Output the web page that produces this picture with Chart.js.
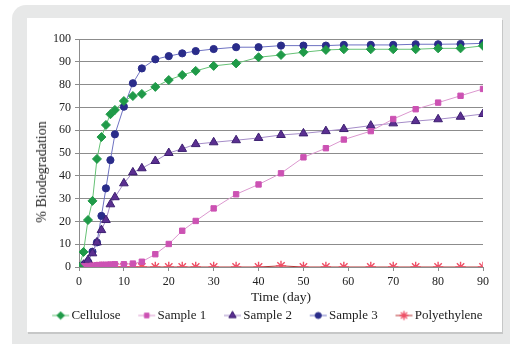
<!DOCTYPE html>
<html>
<head>
<meta charset="utf-8">
<script src="https://cdn.jsdelivr.net/npm/chart.js@4/dist/chart.umd.min.js"></script>
<style>
  html, body { margin:0; padding:0; width:510px; height:344px; overflow:hidden; background:#ffffff; }
  #frame { position:absolute; left:12px; top:5px; width:520px; height:360px; background:#e7e8e8; border-radius:14px; }
  #panel { position:absolute; left:27px; top:18px; width:475px; height:314px; background:#ffffff;
           box-shadow: 1px 2px 0 #c6c7c7; }
  #chartBox { position:absolute; left:0px; top:18px; width:510px; height:314px; }
  #ytitle { position:absolute; left:42px; top:172px; transform:translate(-50%,-50%) rotate(-90deg);
            font-family:'Liberation Serif', serif; font-size:14px; color:#222; white-space:nowrap; }
</style>
</head>
<body>
<div id="frame"></div>
<div id="panel"></div>
<div id="chartBox"><canvas id="c" width="510" height="314"></canvas></div>
<div id="ytitle">% Biodegradation</div>
<script>
// ---- data ----
const days = [0,1,2,3,4,5,6,7,8,10,12,14,17,20,23,26,30,35,40,45,50,55,59,65,70,75,80,85,90];
const cellulose = [0,6.6,20.6,29,47.4,57,62.3,67,68.9,72.8,75,75.9,79,82,84.2,86,88.2,89.3,92,93,94.2,95.2,95.5,95.5,95.5,95.5,95.9,95.9,97];
const sample1 = [0,0.3,0.5,0.6,0.8,1,1,1.1,1.2,1.2,1.5,2.3,5.6,10.1,15.9,20.2,25.7,31.9,36.2,41.1,48.1,52.1,55.9,59.6,64.9,69.2,72.1,75.1,78.1];
const sample2 = [0,1,3,6,10.8,16.2,20.6,27.5,30.6,36.7,41.5,43.3,46.5,50,51.8,53.9,54.7,55.6,56.6,57.9,58.6,59.6,60.5,62,63,64,64.8,65.9,67.1];
const sample3 = [0,0.9,2.3,6.7,10.8,22.4,34.5,46.9,58.2,70.3,80.6,87.1,91.1,92.5,93.7,94.7,95.6,96.4,96.4,97.1,97.1,97.1,97.4,97.4,97.4,97.7,97.7,97.8,98.1];
const polyethylene = [0,0,0,0,0,0,0,0,0,0,0,0,0,0,0,0,0,0,0,0.5,0,0,0,0,0,0,0,0,0];
const seriesNames = ["Cellulose","Sample 1","Sample 2","Sample 3","Polyethylene"];
const xTitle = "Time (day)";

const FONT = "'Liberation Serif', 'Times New Roman', serif";
Chart.defaults.font.family = FONT;
Chart.defaults.color = '#222';

function pts(vals){ return days.map((d,i)=>({x:d, y:vals[i]})); }

const styles = [
  {marker:'rectRot', r:4.5, fill:'#1f9a48', stroke:'#1f9a48', line:'#66c276', bw:1},
  {marker:'rect',    r:3.8, fill:'#cc52b3', stroke:'#cc52b3', line:'#dc98cf', bw:1},
  {marker:'triangle',r:5,   fill:'#5b2f91', stroke:'#3c1f70', line:'#a58cc8', bw:1},
  {marker:'circle',  r:3.6, fill:'#2a2c8a', stroke:'#2a2c8a', line:'#6e72c2', bw:1},
  {marker:'star',    r:5.2, fill:'#f05a6e', stroke:'#ee4f66', line:'#b83434', bw:1.4}
];
const values = [cellulose, sample1, sample2, sample3, polyethylene];

// legend symbol images: line with marker; transparent left part acts as the gap between items
function legendImage(st){
  const W = 39, H = 12;
  const cv = document.createElement('canvas');
  cv.width = W; cv.height = H;
  const ctx = cv.getContext('2d');
  const x0 = 21, x1 = 38, cy = H/2;
  ctx.strokeStyle = st.line; ctx.lineWidth = 1;
  ctx.beginPath(); ctx.moveTo(x0, cy); ctx.lineTo(x1, cy); ctx.stroke();
  ctx.save();
  ctx.fillStyle = st.fill; ctx.strokeStyle = st.stroke; ctx.lineWidth = st.bw;
  Chart.helpers.drawPoint(ctx, {pointStyle: st.marker, radius: st.r*0.85, borderWidth: st.bw, rotation:0},
                          (x0+x1)/2, cy);
  ctx.restore();
  return cv;
}

const datasets = seriesNames.map((name,i)=>{
  const st = styles[i];
  return {
    label: name,
    data: pts(values[i]),
    borderColor: st.line,
    borderWidth: 1,
    backgroundColor: st.fill,
    pointStyle: st.marker,
    pointRadius: st.r,
    pointHoverRadius: st.r,
    pointBackgroundColor: st.fill,
    pointBorderColor: st.stroke,
    pointBorderWidth: st.bw,
    tension: 0,
    fill: false,
    order: i===4 ? 5 : i
  };
});

const legendImgs = styles.map(legendImage);

new Chart(document.getElementById('c'), {
  type: 'line',
  data: { datasets },
  options: {
    responsive: false,
    animation: false,
    events: [],
    layout: { padding: { left: 9, right: 0, top: 21, bottom: 0 } },
    plugins: {
      tooltip: { enabled: false },
      legend: {
        display: true,
        position: 'bottom',
        labels: {
          usePointStyle: true,
          pointStyleWidth: 28.5,
          padding: 2,
          color: '#222',
          font: { family: FONT, size: 13 },
          generateLabels: (chart) => seriesNames.map((n,i)=>({
            text: n, pointStyle: legendImgs[i], fillStyle: styles[i].fill,
            strokeStyle: styles[i].stroke, lineWidth: 0, hidden: false, datasetIndex: i, fontColor: '#222'
          }))
        }
      }
    },
    scales: {
      x: {
        type: 'linear', min: 0, max: 90,
        ticks: { stepSize: 10, color: '#222', font: { family: FONT, size: 12 }, padding: 4, maxRotation: 0 },
        grid: { display: true, drawOnChartArea: false, drawTicks: true, tickLength: 4, color: '#8c8c8c' },
        border: { display: true, color: '#8c8c8c', width: 1 },
        title: { display: true, text: xTitle, color: '#222', font: { family: FONT, size: 13.5 }, padding: { top: 0, bottom: 1 } },
        afterFit: (s) => { s.height = 40; s.paddingRight = 27; }
      },
      y: {
        type: 'linear', min: 0, max: 100,
        ticks: { stepSize: 10, color: '#222', font: { family: FONT, size: 12 }, padding: 4 },
        grid: { display: true, color: '#8c8c8c', lineWidth: 1, drawTicks: true, tickLength: 4 },
        border: { display: true, color: '#8c8c8c', width: 1 },
        afterFit: (s) => { s.width = 70; }
      }
    }
  }
});
</script>
</body>
</html>
